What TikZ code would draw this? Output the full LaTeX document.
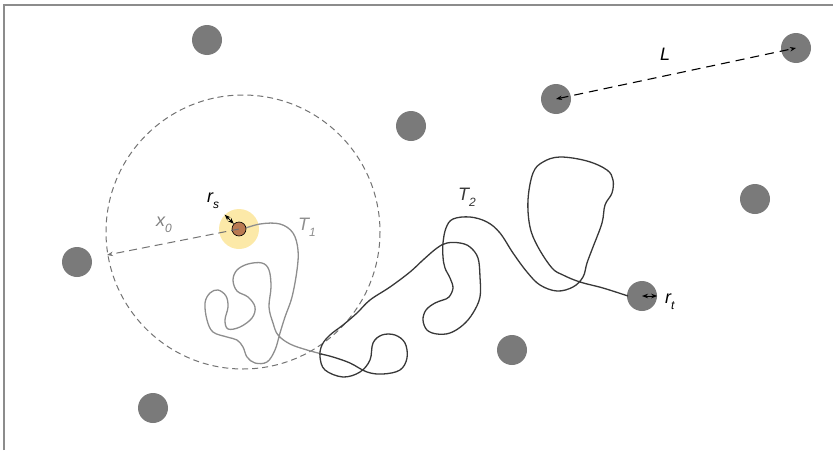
\documentclass[tikz,border=0pt]{standalone}
\usepackage{fontspec}
\setmainfont{Liberation Sans}
\usetikzlibrary{arrows.meta}
\definecolor{obst}{HTML}{7A7A7A}
\definecolor{halo}{HTML}{FCE9A8}
\definecolor{srcfill}{HTML}{BA7A52}
\definecolor{walkone}{HTML}{8E8E8E}
\definecolor{walktwo}{HTML}{383838}
\newcommand{\lowidx}[1]{\raisebox{-6pt}{\fontsize{12}{12}\selectfont #1}}

\begin{document}
\begin{tikzpicture}[x=1pt, y=-1pt, >={Stealth[length=6pt,width=4.5pt]},
    obstacle/.style={circle, fill=obst, minimum size=30pt, inner sep=0pt},
    lab/.style={anchor=base west, inner sep=0pt,
                font=\fontsize{18}{20}\selectfont\itshape},
    walk/.style={line width=1.3pt, line join=round,
                 smooth, tension=0.6}]
  \useasboundingbox (0,0) rectangle (833,450);
  \draw[line width=1.5pt, draw=gray!90] (4,450) -- (4,5) -- (833,5);

  % obstacles
  \foreach \x/\y [count=\i] in {207/40, 796/48, 556/99, 411/126, 755/199,
                                77/262, 512/350, 153/408}
    \node[obstacle] (o\i) at (\x,\y) {};
  \node[obstacle] (target) at (642,296) {};

  % search range around the source
  \draw[draw=gray!110, line width=1pt, dash pattern=on 6pt off 4pt]
    (243,232) circle (137);
  \node[circle, fill=halo, minimum size=40pt, inner sep=0pt] (halo) at (239,229) {};

  % first walk
  \draw[walk, draw=walkone] plot coordinates {
    (240,230) (260,224) (280,224) (293,233) (298,250) (297,270) (292,297)
    (285,317) (280,333) (275,350) (267,362) (255,363) (247,357) (243,347)
    (237,340) (227,337) (213,332) (207,320) (205,303) (210,293) (218,290)
    (226,296) (228,307) (225,320) (228,329) (240,327) (252,318) (255,307)
    (248,297) (237,291) (233,280) (237,270) (248,264) (262,263) (269,270)
    (271,287) (269,307) (273,323) (278,335) (290,344) (307,350) (322,354)};

  % second walk
  \draw[walk, draw=walktwo] plot coordinates {
    (321,354) (333,357) (350,363) (367,372) (383,374) (400,370) (407,358)
    (405,343) (395,335) (382,335) (373,343) (370,360) (360,372) (343,377)
    (325,370) (320,357) (322,345) (330,335) (343,325) (357,313) (370,300)
    (390,287) (410,272) (423,260) (437,248) (447,243) (460,243) (470,247)
    (478,258) (480,277) (480,297) (473,313) (463,325) (450,333) (437,334)
    (427,330) (423,320) (426,310) (435,303) (443,300) (449,297) (453,288)
    (450,278) (445,268) (443,257) (443,243) (446,228) (453,219) (470,217)
    (487,222) (500,233) (513,253) (527,272) (540,285) (557,291) (573,287)
    (583,277) (587,263) (593,247) (602,223) (605,205) (612,193) (613,180)
    (607,170) (587,161) (560,157) (543,162) (533,173) (528,200) (530,227)
    (538,247) (552,268) (563,275) (580,282) (603,288) (628,296)};

  \node[circle, draw=black, line width=0.6pt, fill=srcfill,
        minimum size=14pt, inner sep=0pt] (src) at (239,229) {};

  % distances
  \coordinate (x0end) at (107,255);
  \draw[->, draw=gray!110, line width=1pt, dash pattern=on 8pt off 5pt]
    (src.center) -- (x0end);
  \draw[<->, line width=1pt] (src.135) -- (halo.135);
  \draw[<->, line width=1.1pt, dash pattern=on 9pt off 6pt]
    (o3.center) -- (o2.center);
  \draw[<->, line width=1pt] (target.center) -- (target.east);

  % labels
  \node[lab] (lrs) at (207,202) {r\lowidx{s}};
  \node[lab, text=gray] (lx0) at (156,226) {x\lowidx{0}};
  \node[lab, text=walkone] (lt1) at (298,230) {T\lowidx{1}};
  \node[lab, text=walktwo] (lt2) at (458,200) {T\lowidx{2}};
  \node[lab] (ll) at (660,60) {L};
  \node[lab] (lrt) at (665,303) {r\lowidx{t}};
\end{tikzpicture}
\end{document}
